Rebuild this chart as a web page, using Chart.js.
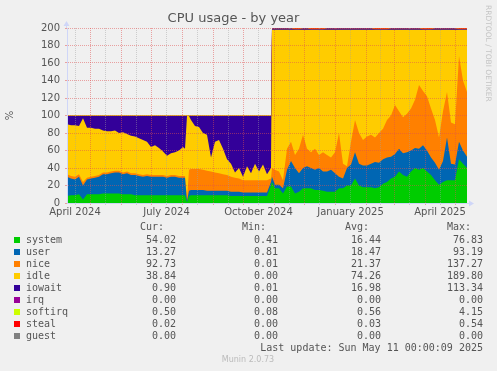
<!DOCTYPE html>
<html><head><meta charset="utf-8">
<script src="https://cdn.jsdelivr.net/npm/chart.js@4.4.1/dist/chart.umd.min.js"></script>
<style>
html,body{margin:0;padding:0;background:#F0F0F0;}
#wrap{position:relative;width:497px;height:371px;overflow:hidden;background:#F0F0F0;}
#c{position:absolute;left:0;top:0;}
.t{position:absolute;font-family:"DejaVu Sans Mono",monospace;font-size:10px;line-height:12px;color:#555;white-space:pre;}
.r{text-align:right;}
.sq{position:absolute;width:6px;height:6px;}
</style></head><body>
<div id="wrap"><canvas id="c" width="497" height="371"></canvas><div id="legend"></div></div>
<script>
// ---- data (days since 2024-04-08) ----
const days = [0,4,8,12,16,20,24,28,32,36,40,44,48,52,56,60,64,68,72,76,80,84,88,92,96,100,104,108,112,116,118,120,122,124,128,132,136,140,144,148,152,156,160,164,168,172,176,180,184,188,192,196,200,204,205,208,212,216,220,224,228,232,236,240,244,248,252,256,260,264,268,272,276,280,284,288,292,296,300,304,308,312,316,320,324,328,332,336,340,344,348,352,356,360,364,368,372,376,380,384,388,392,396,400];

const system = [8,9,9,10,4,10,10,10,10,11,11,11,11,11,10,10,10,9,9,9,9,9,9,9,9,9,9,9,9,9,
  9,1,8,
  9,9,9,9,9,9,9,9,9,9,8,8,8,8,8,8,8,8,8,8,20,
  24,
  17,17,11,19,19,11,13,17,17,17,15,15,14,13,13,13,17,17,20,20,28,20,18,18,18,
  17,18,22,24,28,30,36,32,30,36,40,38,40,36,32,26,21,24,26,26,26,50,45,40];

const user = [22,19,18,20,16,17,18,19,20,22,22,23,24,24,23,24,22,23,22,21,22,21,21,21,21,20,21,21,20,20,
  20,1,6,
  6,6,6,6,5,5,5,5,5,5,5,5,5,4,4,4,4,4,4,4,4,
  6,
  4,4,6,19,29,29,21,23,25,23,23,25,22,23,25,21,13,11,20,24,30,25,25,25,27,
  30,28,28,28,25,26,26,25,28,24,23,24,26,24,20,20,17,24,49,19,18,20,15,13];

const nice = [3,3,3,3,4,2,2,2,2,2,2,2,2,2,2,2,2,2,2,2,2,2,2,2,2,2,2,2,2,2,
  2,2,24,
  24,24,24,23,23,22,21,20,19,18,17,16,15,14,14,14,14,14,14,14,4,
  10,
  17,15,9,24,22,15,28,38,20,18,24,15,22,19,14,24,50,17,2,26,37,35,29,33,33,
  28,34,35,43,47,56,43,41,44,48,55,73,62,62,56,49,37,57,52,47,46,98,80,74];

const idle = [57,58,59,55,73,57,56,54,53,48,47,46,46,43,46,43,43,42,41,40,37,32,34,31,27,23,25,26,29,33,
  31,95.5,61.5,
  56,49,48,42,41,16,35,38,29,18,15,6,12,4,16,8,19,10,18,7,12,
  158,
  160,162,172,136,128,143,136,120,136,140,136,143,140,143,146,140,118,153,156,128,103,118,126,122,120,
  123,118,113,103,98,86,93,100,96,90,80,63,70,76,90,103,123,93,71,106,108,30,58,71];

const iowait = [9.5,10.5,10.5,11.5,2.5,13.5,13.5,14.5,14.5,16.5,17.5,17.5,16.5,19.5,18.5,20.5,22.5,23.5,25.5,27.5,29.5,35.5,33.5,36.5,40.5,45.5,42.5,41.5,39.5,35.5,
  37.5,0,0,
  4.5,11.5,12.5,19.5,21.5,47.5,29.5,27.5,37.5,49.5,54.5,64.5,59.5,69.5,57.5,65.5,54.5,63.5,55.5,66.5,59.5,
  1.3,
  1.3,1.3,1.3,1.3,1.3,0.7,0.7,1.3,1.3,0.7,0.7,0.7,0.7,1.3,1.3,1.3,1.3,1.3,1.3,1.3,1.3,1.3,1.3,1.3,1.3,
  0.7,0.7,0.7,0.7,1.3,1.3,1.3,1.3,1.3,1.3,1.3,1.3,0.7,0.7,0.7,1.3,1.3,1.3,1.3,1.3,1.3,0.7,0.7,0.7];

const irq = [0,0,0,0,0,0,0,0,0,0,0,0,0,0,0,0,0,0,0,0,0,0,0,0,0,0,0,0,0,0,
  0,0,0,
  0,0,0,0,0,0,0,0,0,0,0,0,0,0,0,0,0,0,0,0,0,
  0,
  0,0,0,0,0,0,0,0,0,0,0,0,0,0,0,0,0,0,0,0,0,0,0,0,0,
  0,0,0,0,0,0,0,0,0,0,0,0,0,0,0,0,0,0,0,0,0,0,0,0];

const softirq = [0.5,0.5,0.5,0.5,0.5,0.5,0.5,0.5,0.5,0.5,0.5,0.5,0.5,0.5,0.5,0.5,0.5,0.5,0.5,0.5,0.5,0.5,0.5,0.5,0.5,0.5,0.5,0.5,0.5,0.5,
  0.5,0.5,0.5,
  0.5,0.5,0.5,0.5,0.5,0.5,0.5,0.5,0.5,0.5,0.5,0.5,0.5,0.5,0.5,0.5,0.5,0.5,0.5,0.5,0.5,
  0.5,
  0.5,0.5,0.5,0.5,0.5,0.5,0.5,0.5,0.5,0.5,0.5,0.5,0.5,0.5,0.5,0.5,0.5,0.5,0.5,0.5,0.5,0.5,0.5,0.5,0.5,
  0.5,0.5,0.5,0.5,0.5,0.5,0.5,0.5,0.5,0.5,0.5,0.5,0.5,0.5,0.5,0.5,0.5,0.5,0.5,0.5,0.5,0.5,0.5,0.5];

const steal = [0,0,0,0,0,0,0,0,0,0,0,0,0,0,0,0,0,0,0,0,0,0,0,0,0,0,0,0,0,0,
  0,0,0,
  0,0,0,0,0,0,0,0,0,0,0,0,0,0,0,0,0,0,0,0,0,
  0.2,
  0.2,0.2,0.2,0.2,0.2,0.8,0.8,0.2,0.2,0.8,0.8,0.8,0.8,0.2,0.2,0.2,0.2,0.2,0.2,0.2,0.2,0.2,0.2,0.2,0.2,
  0.8,0.8,0.8,0.8,0.2,0.2,0.2,0.2,0.2,0.2,0.2,0.2,0.8,0.8,0.8,0.2,0.2,0.2,0.2,0.2,0.2,0.8,0.8,0.8];

const guest = [0,0,0,0,0,0,0,0,0,0,0,0,0,0,0,0,0,0,0,0,0,0,0,0,0,0,0,0,0,0,
  0,0,0,
  0,0,0,0,0,0,0,0,0,0,0,0,0,0,0,0,0,0,0,0,0,
  0,
  0,0,0,0,0,0,0,0,0,0,0,0,0,0,0,0,0,0,0,0,0,0,0,0,0,
  0,0,0,0,0,0,0,0,0,0,0,0,0,0,0,0,0,0,0,0,0,0,0,0];

const seriesNames = ['system','user','nice','idle','iowait','irq','softirq','steal','guest'];
const seriesColors = ['#00CC00','#0066B3','#FF8000','#FFCC00','#330099','#990099','#CCFF00','#FF0000','#808080'];
const seriesData = [system,user,nice,idle,iowait,irq,softirq,steal,guest];

const curVals = [54.02,13.27,92.73,38.84,0.90,0.00,0.50,0.02,0.00];
const minVals = [0.41,0.81,0.01,0.00,0.01,0.00,0.08,0.00,0.00];
const avgVals = [16.44,18.47,21.37,74.26,16.98,0.00,0.56,0.03,0.00];
const maxVals = [76.83,93.19,137.27,189.80,113.34,0.00,4.15,0.54,0.00];

const yTickLabels = [0,20,40,60,80,100,120,140,160,180,200];
const xTickLabels = ['April 2024','July 2024','October 2024','January 2025','April 2025'];
const xLabelMonths = [[2024,3],[2024,6],[2024,9],[2025,0],[2025,3]];

const titleText = 'CPU usage - by year';
const lastUpdate = 'Last update: Sun May 11 00:00:09 2025';
const footer = 'Munin 2.0.73';
const watermark = 'RRDTOOL / TOBI OETIKER';

// ---- axis ticks from calendar ----
const START = Date.UTC(2024,3,8), DAY = 86400000;
const monthStart = [];
for (let k = 0; k < 15; k++) monthStart.push((Date.UTC(2024, 3 + k, 1) - START) / DAY);
const majorX = monthStart.filter(d => d > 0 && d < 400);
const minorX = [];
const xLabelAt = {};
for (let k = 0; k < monthStart.length - 1; k++) {
  const mid = (monthStart[k] + monthStart[k+1]) / 2;
  if (mid > 0 && mid < 400) {
    minorX.push(mid);
    const dt = new Date(Date.UTC(2024, 3 + k, 1));
    xLabelMonths.forEach((ym, j) => {
      if (ym[0] === dt.getUTCFullYear() && ym[1] === dt.getUTCMonth()) xLabelAt[mid] = xTickLabels[j];
    });
  }
}
const xTicks = majorX.concat(minorX).sort((a,b)=>a-b);
const majorSetX = new Set(majorX);

const MAJOR = 'rgba(224,80,80,0.5)';
const MINOR = 'rgba(160,160,160,0.45)';
const AXIS = '#CFD6F8';
const FONTC = '#555';

Chart.defaults.font.family = 'DejaVu Sans';

const extras = {
  id: 'extras',
  afterDraw(chart) {
    const {ctx, chartArea: a} = chart;
    ctx.save();
    ctx.strokeStyle = AXIS; ctx.fillStyle = AXIS; ctx.lineWidth = 1;
    const lx = a.left - 0.5;
    ctx.beginPath(); ctx.moveTo(lx, a.top); ctx.lineTo(lx, a.top - 3); ctx.stroke();
    ctx.beginPath(); ctx.moveTo(lx - 3, a.top - 2); ctx.lineTo(lx + 3, a.top - 2); ctx.lineTo(lx, a.top - 7); ctx.closePath(); ctx.fill();
    const by = a.bottom + 0.5;
    ctx.beginPath(); ctx.moveTo(a.right, by); ctx.lineTo(a.right + 3, by); ctx.stroke();
    ctx.beginPath(); ctx.moveTo(a.right + 2, by - 3); ctx.lineTo(a.right + 2, by + 3); ctx.lineTo(a.right + 7, by); ctx.closePath(); ctx.fill();
    ctx.fillStyle = '#C4C4C4';
    ctx.font = '7.5px "DejaVu Sans"';
    ctx.textBaseline = 'middle'; ctx.textAlign = 'left';
    ctx.translate(488, 5); ctx.rotate(Math.PI / 2);
    ctx.fillText(watermark, 0, 0);
    ctx.restore();
  }
};

new Chart(document.getElementById('c'), {
  type: 'line',
  data: {
    labels: days,
    datasets: seriesNames.map((n, i) => ({
      label: n,
      data: seriesData[i],
      backgroundColor: seriesColors[i],
      borderColor: 'rgba(0,0,0,0)',
      borderWidth: 0,
      pointRadius: 0,
      tension: 0,
      fill: 'origin'
    }))
  },
  options: {
    responsive: false,
    animation: false,
    devicePixelRatio: 1,
    events: [],
    layout: {padding: {left: 0, right: 30, top: 0, bottom: 148}},
    plugins: {
      legend: {display: false},
      tooltip: {enabled: false},
      title: {display: true, text: titleText, color: FONTC,
        font: {size: 13, weight: 'normal', family: 'DejaVu Sans'},
        padding: {top: 11, bottom: 1.4}}
    },
    scales: {
      x: {
        type: 'linear', min: 0, max: 400,
        afterBuildTicks: s => { s.ticks = xTicks.map(v => ({value: v})); },
        afterFit: s => { s.height = 20; },
        ticks: {autoSkip: false, maxRotation: 0, padding: 1, color: FONTC,
          font: {size: 10}, callback: v => xLabelAt[v] || ''},
        grid: {z: 1, color: c => majorSetX.has(c.tick.value) ? MAJOR : MINOR,
          tickColor: c => majorSetX.has(c.tick.value) ? MAJOR : MINOR, tickLength: 2},
        border: {display: true, color: AXIS, dash: [1, 1], z: 2}
      },
      y: {
        stacked: true, min: 0, max: 200,
        afterBuildTicks: s => { const t = []; for (let v = 0; v <= 200; v += 10) t.push({value: v}); s.ticks = t; },
        afterFit: s => { s.width = 67; },
        ticks: {padding: 5, color: FONTC, font: {size: 10},
          callback: v => yTickLabels.includes(v) ? String(v) : ''},
        grid: {z: 1, color: c => (c.tick.value % 20 === 0) ? MAJOR : MINOR,
          tickColor: c => (c.tick.value % 20 === 0) ? MAJOR : MINOR, tickLength: 2},
        border: {display: true, color: AXIS, dash: [1, 1], z: 2},
        title: {display: true, text: '%', color: FONTC, font: {size: 10}, padding: {top: 4, bottom: 0}}
      }
    }
  },
  plugins: [extras]
});

// ---- legend (HTML text) ----
const lg = document.getElementById('legend');
function put(txt, left, top, width, right, extra) {
  const d = document.createElement('div');
  d.className = 't' + (right ? ' r' : '');
  d.textContent = txt;
  d.style.left = left + 'px'; d.style.top = top + 'px';
  if (width) d.style.width = width + 'px';
  if (extra) Object.assign(d.style, extra);
  lg.appendChild(d);
}
const colRight = [176, 278, 381, 483];
const headers = ['Cur:', 'Min:', 'Avg:', 'Max:'];
headers.forEach((h, j) => put(h, colRight[j] - 12 - 60, 221, 60, true));
const cols = [curVals, minVals, avgVals, maxVals];
seriesNames.forEach((n, i) => {
  const top = 234 + 12 * i;
  const sq = document.createElement('div');
  sq.className = 'sq'; sq.style.left = '14px'; sq.style.top = (237 + 12 * i) + 'px';
  sq.style.background = seriesColors[i];
  lg.appendChild(sq);
  put(n, 26, top);
  cols.forEach((c, j) => put(c[i].toFixed(2), colRight[j] - 60, top, 60, true));
});
put(lastUpdate, colRight[3] - 300, 341.5, 300, true);
put(footer, 148, 355, 200, false, {textAlign: 'center', fontFamily: '"DejaVu Sans"', fontSize: '8px', lineHeight: '10px', color: '#BBBBBB'});
</script>
</body></html>
